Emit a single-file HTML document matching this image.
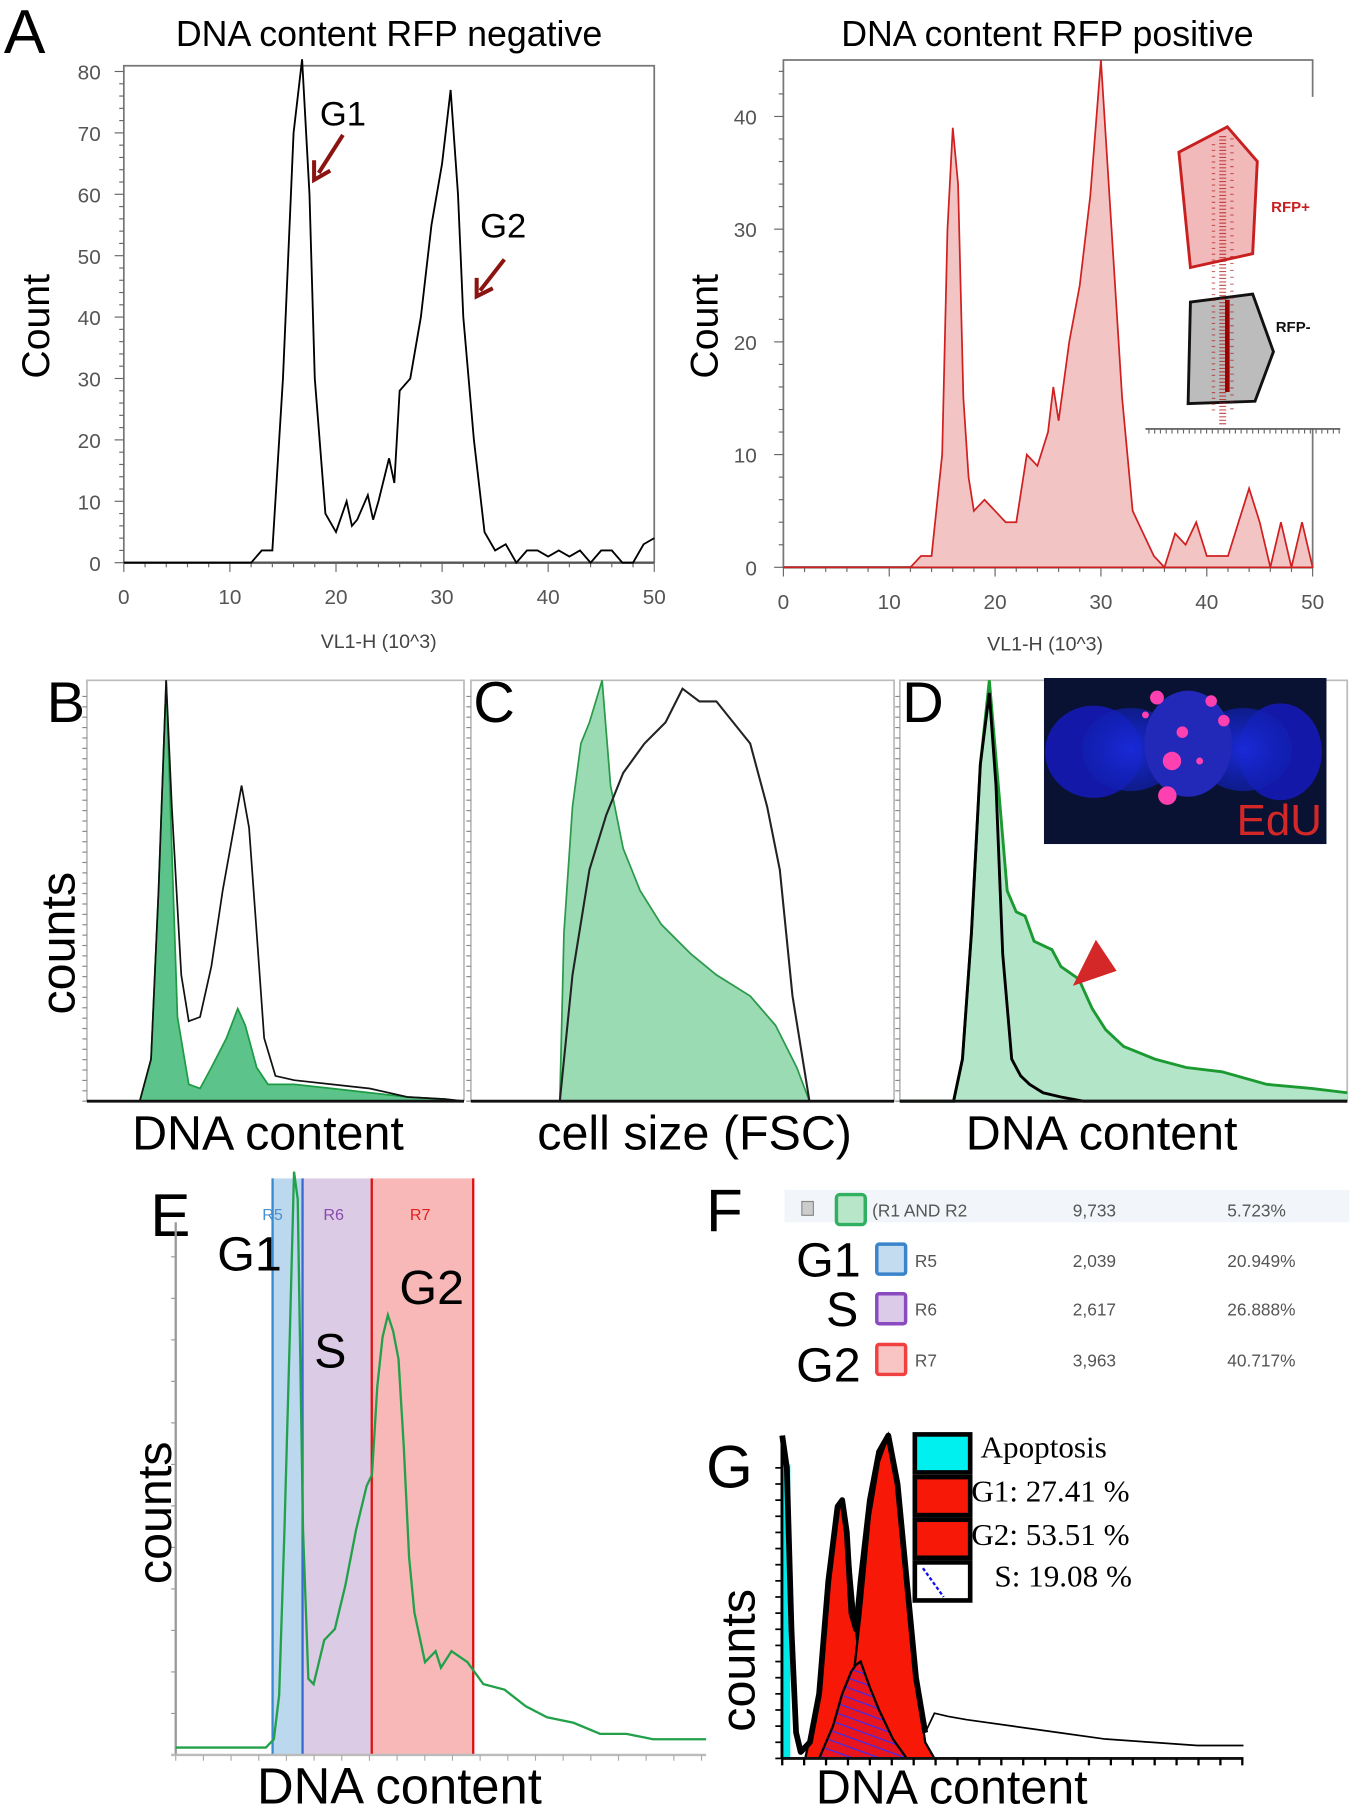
<!DOCTYPE html>
<html><head><meta charset="utf-8"><style>
html,body{margin:0;padding:0;background:#fff;}
svg{display:block;}
text{font-family:"Liberation Sans",sans-serif;}
.serif{font-family:"Liberation Serif",serif;}
.tick{font-size:18px;fill:#555;font-family:"Liberation Sans Narrow","Liberation Sans",sans-serif;}
</style></head><body>
<svg id="fig" width="1350" height="1808" viewBox="0 0 1170 1568" xmlns="http://www.w3.org/2000/svg">
<defs>
<pattern id="hatch" width="8" height="8" patternUnits="userSpaceOnUse" patternTransform="rotate(20)">
<rect width="8" height="8" fill="#e8141e"/><line x1="0" y1="4" x2="8" y2="4" stroke="#3030ff" stroke-width="1"/></pattern>
<radialGradient id="lobe" cx="0.5" cy="0.5" r="0.5"><stop offset="0" stop-color="#1a2ad8"/><stop offset="1" stop-color="#1020b0" stop-opacity="0.7"/></radialGradient>
</defs>

<!-- Panel A -->
<text x="3" y="46" font-size="54">A</text>
<text x="337" y="40" font-size="31" text-anchor="middle">DNA content RFP negative</text>
<text x="908" y="40" font-size="31" text-anchor="middle">DNA content RFP positive</text>
<g id="a1"></g>
<g id="a2"></g>
<text transform="translate(42,283) rotate(-90)" font-size="34" text-anchor="middle">Count</text>
<text transform="translate(622,283) rotate(-90)" font-size="34" text-anchor="middle">Count</text>
<text x="328" y="562" font-size="17" fill="#444" text-anchor="middle">VL1-H (10^3)</text>
<text x="906" y="564" font-size="17" fill="#444" text-anchor="middle">VL1-H (10^3)</text>
<text x="277" y="109" font-size="30">G1</text>
<line x1="297" y1="117" x2="276" y2="150" stroke="#8b1410" stroke-width="3.5"/>
<polyline points="272,139 272,156 286,148" fill="none" stroke="#8b1410" stroke-width="3.5"/>
<text x="416" y="206" font-size="30">G2</text>
<line x1="437" y1="225" x2="416" y2="252" stroke="#8b1410" stroke-width="3.5"/>
<polyline points="413,241 413,257 427,250" fill="none" stroke="#8b1410" stroke-width="3.5"/>
<!-- inset gating -->
<g>
<polygon points="1022,132 1064,110 1090,140 1086,220 1032,232" fill="#f1b9b9" stroke="#c82020" stroke-width="2.5"/>
<polygon points="1032,262 1086,255 1104,305 1088,348 1030,350" fill="#bcbcbc" stroke="#111" stroke-width="2.5"/>
<line x1="1060" y1="118" x2="1060" y2="368" stroke="#b01010" stroke-width="6" stroke-dasharray="1 2" opacity="0.7"/>
<line x1="1052" y1="125" x2="1052" y2="360" stroke="#b01010" stroke-width="3" stroke-dasharray="1 4" opacity="0.6"/>
<line x1="1068" y1="120" x2="1068" y2="360" stroke="#b01010" stroke-width="3" stroke-dasharray="1 5" opacity="0.6"/>
<line x1="1064" y1="260" x2="1064" y2="340" stroke="#900" stroke-width="4"/>
<text x="1102" y="184" font-size="13" font-weight="bold" fill="#c82020">RFP+</text>
<text x="1106" y="288" font-size="13" font-weight="bold" fill="#111">RFP-</text>
<line x1="993" y1="372" x2="1162" y2="372" stroke="#555" stroke-width="1.5"/>
<g id="insetTicks"></g>
</g>

<!-- Panel B C D -->
<text x="40" y="626" font-size="50">B</text>
<text x="410" y="626" font-size="50">C</text>
<text x="782" y="626" font-size="50">D</text>
<g id="pb"></g>
<g id="pc"></g>
<g id="pd"></g>
<text transform="translate(64,818) rotate(-90)" font-size="42" text-anchor="middle">counts</text>
<text x="232" y="997" font-size="42" text-anchor="middle">DNA content</text>
<text x="602" y="997" font-size="42" text-anchor="middle">cell size (FSC)</text>
<text x="955" y="997" font-size="42" text-anchor="middle">DNA content</text>
<g>
<rect x="905" y="588" width="245" height="144" fill="#0a1233"/>
<ellipse cx="948" cy="652" rx="42" ry="40" fill="#1418a8"/>
<ellipse cx="980" cy="650" rx="42" ry="36" fill="url(#lobe)"/>
<ellipse cx="1110" cy="652" rx="36" ry="42" fill="#1418a8"/>
<ellipse cx="1078" cy="650" rx="42" ry="36" fill="url(#lobe)"/>
<ellipse cx="1030" cy="645" rx="38" ry="46" fill="#2228b8"/>
<circle cx="1003" cy="605" r="6" fill="#ff40b0"/><circle cx="1050" cy="608" r="5" fill="#ff40b0"/>
<circle cx="1016" cy="660" r="8" fill="#ff40b0"/><circle cx="1012" cy="690" r="8" fill="#ff40b0"/>
<circle cx="1025" cy="635" r="5" fill="#ff40b0"/><circle cx="1061" cy="625" r="5" fill="#ff40b0"/>
<circle cx="1040" cy="660" r="3" fill="#ff40b0"/><circle cx="993" cy="620" r="3" fill="#ff40b0"/>
<text x="1146" y="724" font-size="38" fill="#d42828" text-anchor="end">EdU</text>
</g>
<polygon points="930,855 968,842 950,815" fill="#d42828"/>

<!-- Panel E -->
<text x="130" y="1072" font-size="52">E</text>
<g>
<rect x="236" y="1022" width="26" height="500" fill="#bcd8ee"/>
<rect x="262" y="1022" width="60" height="500" fill="#dccbe4"/>
<rect x="322" y="1022" width="88" height="500" fill="#f9b8b8"/>
<line x1="236" y1="1022" x2="236" y2="1522" stroke="#3a8ad0" stroke-width="2"/>
<line x1="262" y1="1022" x2="262" y2="1522" stroke="#3a6ad0" stroke-width="2"/>
<line x1="322" y1="1022" x2="322" y2="1522" stroke="#e01010" stroke-width="2"/>
<line x1="410" y1="1022" x2="410" y2="1522" stroke="#e01010" stroke-width="2"/>
<text x="236" y="1058" font-size="14" fill="#4a90d0" text-anchor="middle">R5</text>
<text x="289" y="1058" font-size="14" fill="#8a4ab0" text-anchor="middle">R6</text>
<text x="364" y="1058" font-size="14" fill="#e02020" text-anchor="middle">R7</text>
</g>
<g id="pe"></g>
<text x="188" y="1102" font-size="42">G1</text>
<text x="272" y="1186" font-size="42">S</text>
<text x="346" y="1131" font-size="42">G2</text>
<text transform="translate(148,1312) rotate(-90)" font-size="42" text-anchor="middle">counts</text>
<text x="346" y="1564" font-size="44" text-anchor="middle">DNA content</text>

<!-- Panel F -->
<text x="612" y="1068" font-size="52">F</text>
<g>
<rect x="680" y="1032" width="490" height="28" fill="#f2f6fa"/>
<rect x="695" y="1042" width="10" height="12" fill="#ccc" stroke="#888"/>
<rect x="725" y="1036" width="25" height="26" rx="3" fill="#b8e6c8" stroke="#30b060" stroke-width="3"/>
<text x="756" y="1055" font-size="15" fill="#555">(R1 AND R2</text>
<text x="930" y="1055" font-size="15" fill="#555">9,733</text>
<text x="1064" y="1055" font-size="15" fill="#555">5.723%</text>
<text x="690" y="1107" font-size="42">G1</text>
<rect x="760" y="1079" width="25" height="26" rx="2" fill="#c4dcf0" stroke="#3a84cc" stroke-width="3"/>
<text x="793" y="1099" font-size="15" fill="#555">R5</text>
<text x="930" y="1099" font-size="15" fill="#555">2,039</text>
<text x="1064" y="1099" font-size="15" fill="#555">20.949%</text>
<text x="716" y="1150" font-size="42">S</text>
<rect x="760" y="1122" width="25" height="26" rx="2" fill="#dccbe8" stroke="#8a4ac0" stroke-width="3"/>
<text x="793" y="1141" font-size="15" fill="#555">R6</text>
<text x="930" y="1141" font-size="15" fill="#555">2,617</text>
<text x="1064" y="1141" font-size="15" fill="#555">26.888%</text>
<text x="690" y="1198" font-size="42">G2</text>
<rect x="760" y="1166" width="25" height="26" rx="2" fill="#f8c4c4" stroke="#f04040" stroke-width="3"/>
<text x="793" y="1185" font-size="15" fill="#555">R7</text>
<text x="930" y="1185" font-size="15" fill="#555">3,963</text>
<text x="1064" y="1185" font-size="15" fill="#555">40.717%</text>
</g>

<!-- Panel G -->
<text x="612" y="1290" font-size="52">G</text>
<g id="pg"></g>
<g>
<rect x="793" y="1244" width="48" height="33" fill="#00f0f0" stroke="#000" stroke-width="4"/>
<text x="850" y="1264" font-size="27" class="serif">Apoptosis</text>
<rect x="793" y="1281" width="48" height="33" fill="#f81808" stroke="#000" stroke-width="4"/>
<text x="842" y="1302" font-size="27" class="serif">G1: 27.41 %</text>
<rect x="793" y="1318" width="48" height="33" fill="#f81808" stroke="#000" stroke-width="4"/>
<text x="842" y="1340" font-size="27" class="serif">G2: 53.51 %</text>
<rect x="793" y="1355" width="48" height="33" fill="#fff" stroke="#000" stroke-width="4"/>
<line x1="800" y1="1360" x2="818" y2="1385" stroke="#1010f0" stroke-width="2" stroke-dasharray="3 2"/>
<text x="862" y="1376" font-size="27" class="serif">S: 19.08 %</text>
</g>
<text transform="translate(654,1440) rotate(-90)" font-size="42" text-anchor="middle">counts</text>
<text x="825" y="1564" font-size="42" text-anchor="middle">DNA content</text>
</svg>

<script>
// ---------- data ----------
const aNegX = [0,12,13,14,15,16,16.8,17.5,18,19,20,21,21.5,22,23,23.5,24,25,25.5,26,27,28,29,30,30.8,31.5,32,33,34,35,36,37,38,39,40,41,42,43,44,45,46,47,48,49,50];
const aNegY = [0,0,2,2,30,70,82,60,30,8,5,10,6,7,11,7,10,17,13,28,30,40,55,65,77,60,40,20,5,2,3,0,2,2,1,2,1,2,0,2,2,0,0,3,4];
const aPosX = [0,12,13,14,15,15.5,16,16.5,17,17.5,18,19,20,21,22,23,24,25,25.5,26,27,28,29,30,31,32,33,34,35,36,37,38,39,40,41,42,43,44,45,46,47,48,49,50];
const aPosY = [0,0,1,1,10,30,39,34,15,8,5,6,5,4,4,10,9,12,16,13,20,25,33,45,30,15,5,3,1,0,3,2,4,1,1,1,4,7,4,0,4,0,4,0];
const aNegTicks = [0,10,20,30,40,50,60,70,80];
const aPosTicks = [0,10,20,30,40];
const aXTicks = [0,10,20,30,40,50];
// Panel B
const bX = [0,14,17,19,21,22.5,24,27,30,33,37,40,42,45,48,55,65,75,85,95,100];
const bGreen = [0,0,10,50,100,60,20,4,3,8,15,22,18,8,4,4,3,2,1,0.5,0];
const bBlackX = [0,14,17,19,21,22.5,25,27,30,33,36,39,41,43,45,47,50,55,65,75,85,95,100];
const bBlack = [0,0,10,50,100,70,30,19,20,32,50,65,75,65,40,15,6,5,4,3,1,0.5,0];
// Panel C
const cGX = [0,21,22,24,26,28,31,33,36,40,45,52,58,66,72,77,80,100];
const cGreen = [0,0,40,70,85,90,100,75,60,50,42,35,30,25,18,8,0,0];
const cKX = [0,21,24,28,32,36,41,46,50,54,58,62,66,70,73,76,80,100];
const cBlack = [0,0,30,55,68,78,85,90,98,95,95,90,85,70,55,25,0,0];
// Panel D
const dGX = [0,12,14,16,18,20,22,24,26,28,30,34,36,40,43,46,50,57,64,72,82,92,100];
const dGreen = [0,0,10,40,80,100,75,50,45,44,38,36,32,29,22,17,13,10,8,7,4,3,2];
const dKX = [0,12,14,16,18,20,21.5,23,25,27,29,32,36,41,100];
const dBlack = [0,0,10,40,80,97,75,35,10,6,4,2,1,0,0];
// Panel E
const eX = [0,17,18.5,19.5,20.5,21.5,22.3,23,24,25,26,27,28,30,32,34,36,37,38,39,40,41,42,43,44,45,47,49,50,52,55,58,62,66,70,75,80,85,90,95,100];
const eY = [0.5,0.5,2,10,40,75,105,100,40,13,12,16,20,22,30,40,48,50,66,75,79,76,71,55,35,25,16,18,15,18,16,12,11,8,6,5,3,3,2,2,2];
// Panel G
const gKX = [0,1,2,3,4,6,8,10,12,13,14,15,16,17,19,21,23,25,27,29,31,33,36,40,50,60,70,80,90,100];
const gBlack = [100,90,40,8,2,5,20,55,78,80,70,45,40,55,80,95,100,85,55,25,8,14,13,12,10,8,6,5,4,4];
const gG1X = [5,8,10,12,13,14,16,18,20];
const gG1 = [0,20,55,78,80,72,40,10,0];
const gG2X = [13,15,17,19,21,23,25,27,29,31,33];
const gG2 = [0,20,45,75,92,100,85,55,25,5,0];
const gSX = [8,11,13,15,16,17,18,19,21,24,27];
const gS = [0,10,20,27,29,30,26,22,15,6,0];

// ---------- helpers ----------
const NS = 'http://www.w3.org/2000/svg';
function mk(tag, parent) { const e = document.createElementNS(NS, tag); parent.appendChild(e); return e; }
function lin(d0, d1, r0, r1) { return v => r0 + (v - d0) * (r1 - r0) / (d1 - d0); }
function pts(xs, ys, sx, sy) { return xs.map((x, i) => sx(x).toFixed(1) + ',' + sy(ys[i]).toFixed(1)).join(' '); }

// ---------- Panel A ----------
(function () {
  const g = document.getElementById('a1');
  const sx = lin(0, 50, 107, 567), sy = lin(0, 80, 488, 62);
  const fr = mk('polyline', g); fr.setAttribute('points', '107,488 107,57 567,57 567,488');
  fr.setAttribute('fill', 'none'); fr.setAttribute('stroke', '#777'); fr.setAttribute('stroke-width', '1.5');
  
  
  const ax = mk('line', g); ax.setAttribute('x1', 107); ax.setAttribute('x2', 567); ax.setAttribute('y1', 488); ax.setAttribute('y2', 488); ax.setAttribute('stroke', '#555'); ax.setAttribute('stroke-width', '2');
  
  
  for (let v = 0; v <= 80; v += 2) { const t = mk('line', g); const y = sy(v); t.setAttribute('x1', 107 - (v % 10 ? 4 : 8)); t.setAttribute('x2', 107); t.setAttribute('y1', y); t.setAttribute('y2', y); t.setAttribute('stroke', '#666'); }
  aNegTicks.forEach(v => { const t = mk('text', g); t.setAttribute('x', 87); t.setAttribute('y', sy(v) + 7); t.setAttribute('class', 'tick'); t.setAttribute('text-anchor', 'end'); t.textContent = v;
    
     });
  for (let v = 0; v <= 50; v += 2) { const t = mk('line', g); const x = sx(v); t.setAttribute('x1', x); t.setAttribute('x2', x); t.setAttribute('y1', 488); t.setAttribute('y2', 488 + (v % 10 ? 4 : 8)); t.setAttribute('stroke', '#666'); }
  aXTicks.forEach(v => { const t = mk('text', g); t.setAttribute('x', sx(v)); t.setAttribute('y', 524); t.setAttribute('class', 'tick'); t.setAttribute('text-anchor', 'middle'); t.textContent = v;
    
     });
  const p = mk('polyline', g); p.setAttribute('points', pts(aNegX, aNegY, sx, sy));
  p.setAttribute('fill', 'none'); p.setAttribute('stroke', '#000'); p.setAttribute('stroke-width', '1.6');
  
  
})();
(function () {
  const g = document.getElementById('a2');
  const sx = lin(0, 50, 679, 1138), sy = lin(0, 40, 492, 101);
  const fr = mk('polyline', g); fr.setAttribute('points', '679,492 679,52 1138,52 1138,84');
  fr.setAttribute('fill', 'none'); fr.setAttribute('stroke', '#777'); fr.setAttribute('stroke-width', '1.5');
  
  
  const fr2 = mk('line', g); fr2.setAttribute('x1', 1138); fr2.setAttribute('x2', 1138); fr2.setAttribute('y1', 372); fr2.setAttribute('y2', 492); fr2.setAttribute('stroke', '#777'); fr2.setAttribute('stroke-width', '1.5');
  const ax = mk('line', g); ax.setAttribute('x1', 679); ax.setAttribute('x2', 1138); ax.setAttribute('y1', 492); ax.setAttribute('y2', 492); ax.setAttribute('stroke', '#555'); ax.setAttribute('stroke-width', '2');
  
  
  for (let v = 0; v <= 44; v += 2) { const t = mk('line', g); const y = sy(v); t.setAttribute('x1', 679 - (v % 10 ? 4 : 8)); t.setAttribute('x2', 679); t.setAttribute('y1', y); t.setAttribute('y2', y); t.setAttribute('stroke', '#666'); }
  aPosTicks.forEach(v => { const t = mk('text', g); t.setAttribute('x', 656); t.setAttribute('y', sy(v) + 7); t.setAttribute('class', 'tick'); t.setAttribute('text-anchor', 'end'); t.textContent = v;
    
     });
  for (let v = 0; v <= 50; v += 2) { const t = mk('line', g); const x = sx(v); t.setAttribute('x1', x); t.setAttribute('x2', x); t.setAttribute('y1', 492); t.setAttribute('y2', 492 + (v % 10 ? 4 : 8)); t.setAttribute('stroke', '#666'); }
  aXTicks.forEach(v => { const t = mk('text', g); t.setAttribute('x', sx(v)); t.setAttribute('y', 528); t.setAttribute('class', 'tick'); t.setAttribute('text-anchor', 'middle'); t.textContent = v;
    
     });
  const p = mk('polygon', g); p.setAttribute('points', pts(aPosX, aPosY, sx, sy));
  p.setAttribute('fill', '#f2c4c4'); p.setAttribute('stroke', '#d02020'); p.setAttribute('stroke-width', '1.5');
  
  
  const it = document.getElementById('insetTicks');
  for (let x = 996; x < 1162; x += 5) { const t = mk('line', it); t.setAttribute('x1', x); t.setAttribute('x2', x); t.setAttribute('y1', 372); t.setAttribute('y2', 376); t.setAttribute('stroke', '#666'); }
})();

// ---------- generic panel ----------
function panelFrame(g, x0, x1, y0, y1) {
  const fr = mk('polyline', g); fr.setAttribute('points', `${x0},${y1} ${x0},${y0} ${x1},${y0} ${x1},${y1}`);
  fr.setAttribute('fill', 'none'); fr.setAttribute('stroke', '#bbb'); fr.setAttribute('stroke-width', '1.5');
  
  
  for (let y = y1; y > y0 + 5; y -= 9) { const t = mk('line', g); t.setAttribute('x1', x0 - 4); t.setAttribute('x2', x0); t.setAttribute('y1', y); t.setAttribute('y2', y); t.setAttribute('stroke', '#888'); }
}
function area(g, xs, ys, sx, sy, fill, stroke, sw, name) {
  const f = mk('polygon', g);
  f.setAttribute('points', pts(xs, ys, sx, sy) + ` ${sx(xs[xs.length - 1]).toFixed(1)},${sy(0).toFixed(1)} ${sx(xs[0]).toFixed(1)},${sy(0).toFixed(1)}`);
  f.setAttribute('fill', fill); f.setAttribute('stroke', 'none');
  
  
  const p = mk('polyline', g); p.setAttribute('points', pts(xs, ys, sx, sy));
  p.setAttribute('fill', 'none'); p.setAttribute('stroke', stroke); p.setAttribute('stroke-width', sw);
  
  
  return p;
}
function line(g, xs, ys, sx, sy, stroke, sw, name) {
  const p = mk('polyline', g); p.setAttribute('points', pts(xs, ys, sx, sy));
  p.setAttribute('fill', 'none'); p.setAttribute('stroke', stroke); p.setAttribute('stroke-width', sw);
  
  
  return p;
}
function baseAxis(g, x0, x1, y) {
  const a = mk('line', g); a.setAttribute('x1', x0); a.setAttribute('x2', x1); a.setAttribute('y1', y); a.setAttribute('y2', y); a.setAttribute('stroke', '#111'); a.setAttribute('stroke-width', '2.5');
  
  
}
// B
(function () {
  const g = document.getElementById('pb'); const sx = lin(0, 100, 75, 402), sy = lin(0, 100, 955, 590);
  panelFrame(g, 75, 402, 590, 955);
  area(g, bX, bGreen, sx, sy, '#5cc48a', '#1f9a45', 1.5, 'series-green');
  line(g, bBlackX, bBlack, sx, sy, '#111', 1.5, 'series-black');
  baseAxis(g, 75, 402, 955);
})();
// C
(function () {
  const g = document.getElementById('pc'); const sx = lin(0, 100, 408, 775), sy = lin(0, 100, 955, 590);
  panelFrame(g, 408, 775, 590, 955);
  area(g, cGX, cGreen, sx, sy, '#9adbb4', '#2a9a4a', 1.5, 'series-green');
  line(g, cKX, cBlack, sx, sy, '#222', 1.8, 'series-black');
  baseAxis(g, 408, 775, 955);
})();
// D
(function () {
  const g = document.getElementById('pd'); const sx = lin(0, 100, 780, 1168), sy = lin(0, 100, 955, 590);
  panelFrame(g, 780, 1168, 590, 955);
  area(g, dGX, dGreen, sx, sy, '#b3e6c8', '#1a9a30', 2.5, 'series-green');
  line(g, dKX, dBlack, sx, sy, '#000', 2.5, 'series-black');
  baseAxis(g, 780, 1168, 955);
})();
// E
(function () {
  const g = document.getElementById('pe'); const sx = lin(0, 100, 152, 612), sy = lin(0, 100, 1518, 1040);
  const ax = mk('line', g); ax.setAttribute('x1', 152); ax.setAttribute('x2', 152); ax.setAttribute('y1', 1060); ax.setAttribute('y2', 1522); ax.setAttribute('stroke', '#999'); ax.setAttribute('stroke-width', '2');
  
  
  for (let y = 1522; y > 1060; y -= 36) { const t = mk('line', g); t.setAttribute('x1', 148); t.setAttribute('x2', 152); t.setAttribute('y1', y); t.setAttribute('y2', y); t.setAttribute('stroke', '#999'); }
  const bx = mk('line', g); bx.setAttribute('x1', 148); bx.setAttribute('x2', 612); bx.setAttribute('y1', 1522); bx.setAttribute('y2', 1522); bx.setAttribute('stroke', '#bbb'); bx.setAttribute('stroke-width', '2');
  
  
  for (let x = 152; x < 612; x += 24) { const t = mk('line', g); t.setAttribute('x1', x); t.setAttribute('x2', x); t.setAttribute('y1', 1522); t.setAttribute('y2', 1527); t.setAttribute('stroke', '#aaa'); }
  line(g, eX, eY, sx, sy, '#22a04a', 2, 'dna-content-line');
})();
// G
(function () {
  const g = document.getElementById('pg'); const sx = lin(0, 100, 678, 1078), sy = lin(0, 100, 1525, 1245);
  const ax = mk('line', g); ax.setAttribute('x1', 678); ax.setAttribute('x2', 678); ax.setAttribute('y1', 1245); ax.setAttribute('y2', 1525); ax.setAttribute('stroke', '#000'); ax.setAttribute('stroke-width', '3');
  
  
  for (let y = 1525; y > 1270; y -= 14) { const t = mk('line', g); t.setAttribute('x1', 672); t.setAttribute('x2', 678); t.setAttribute('y1', y); t.setAttribute('y2', y); t.setAttribute('stroke', '#000'); t.setAttribute('stroke-width', '1.5'); }
  const ap = mk('rect', g); ap.setAttribute('x', 679); ap.setAttribute('y', 1270); ap.setAttribute('width', 6); ap.setAttribute('height', 255); ap.setAttribute('fill', '#00e8e8');
  
  
  area(g, gG1X, gG1, sx, sy, '#f81808', '#000', 2, 'g1-peak');
  area(g, gG2X, gG2, sx, sy, '#f81808', '#000', 2, 'g2-peak');
  area(g, gSX, gS, sx, sy, 'url(#hatch)', '#000', 2, 's-phase');
  const cut = gKX.indexOf(31);
  line(g, gKX.slice(0, cut + 1), gBlack.slice(0, cut + 1), sx, sy, '#000', 5, 'total-outline').setAttribute('stroke-linejoin', 'round');
  line(g, gKX.slice(cut), gBlack.slice(cut), sx, sy, '#000', 1.5, 'tail-line');
  baseAxis(g, 678, 1078, 1525);
  for (let x = 678; x <= 1078; x += 19) { const t = mk('line', g); t.setAttribute('x1', x); t.setAttribute('x2', x); t.setAttribute('y1', 1525); t.setAttribute('y2', 1531); t.setAttribute('stroke', '#000'); t.setAttribute('stroke-width', '2'); }
})();
</script>
</body></html>
